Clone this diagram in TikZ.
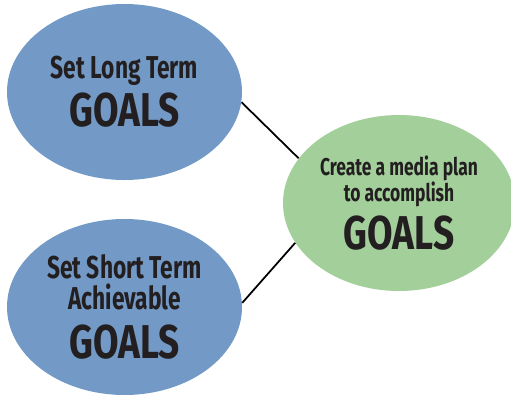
\documentclass[tikz,border=0pt]{standalone}
\usepackage{fontspec}
\usepackage{tikz}
\usetikzlibrary{shapes,positioning}
\newfontfamily\goalfont{Fira Sans}[FakeStretch=0.72]
\newfontfamily\bigfont{Fira Sans}[FakeStretch=0.78]
\definecolor{goalblue}{HTML}{7399C6}
\definecolor{goalgreen}{HTML}{A3CF9B}
\definecolor{goalink}{HTML}{231F20}
\tikzstyle{goal} = [ellipse,fill=goalblue,inner sep=0pt,minimum width=4.7cm,minimum height=3.52cm,align=center,text=goalink,font=\goalfont\bfseries\fontsize{18}{17.6}\selectfont]
\tikzstyle{plan} = [goal,fill=goalgreen,minimum width=4.64cm,font=\goalfont\bfseries\fontsize{13.8}{14.8}\selectfont]
\newcommand{\bigword}[1]{{\bigfont\bfseries\fontsize{27}{30}\selectfont #1}}

\begin{document}
\begin{tikzpicture}
        \useasboundingbox (0,0) rectangle (10.22,-7.88);
        \node[goal] (long) at (2.49,-1.84) {Set Long Term\\[3pt]\bigword{GOALS}};
        \node[goal] (short) at (2.49,-6.14) {Set Short Term\\Achievable\\[7pt]\bigword{GOALS}};
        \node[plan] (media) at (7.98,-4.06) {Create a media plan\\to accomplish\\[4pt]\bigword{GOALS}};
        \draw[line width=1pt] (long.-5) to (media.156);
        \draw[line width=1pt] (short.2) to (media.201);
    \end{tikzpicture}
\end{document}
